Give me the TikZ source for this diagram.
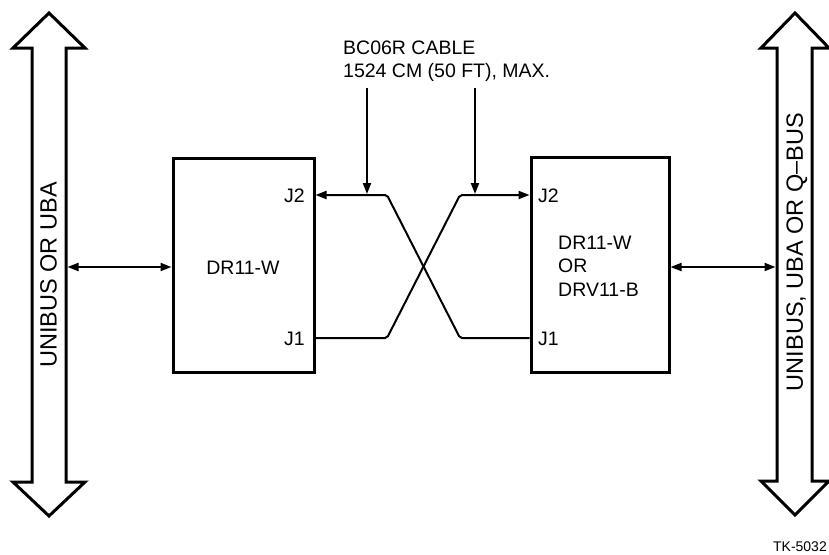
\documentclass[tikz,border=0pt]{standalone}
\usepackage{fontspec}
\setmainfont{Liberation Sans}
\usetikzlibrary{arrows.meta}

\begin{document}
\begin{tikzpicture}[x=1pt, y=-1pt, line join=miter, >={Triangle[length=11pt,width=8pt]}]
  \tikzset{
    unit/.style={draw, line width=3pt, minimum width=141pt, minimum height=214pt, inner sep=0pt},
    busarrow/.style={line width=3pt},
    cable/.style={line width=2pt, rounded corners=2pt},
    lbl/.style={font=\fontsize{19.5}{23.5}\selectfont, inner sep=0pt},
    buslbl/.style={font=\fontsize{23.5}{26}\selectfont, inner sep=0pt, rotate=90},
  }
  \useasboundingbox (0,0) rectangle (829,554);

  % the two buses
  \draw[busarrow] (49,13) -- (85,48) -- (66,48) -- (66,482) -- (85,482) -- (49,516)
    -- (13,482) -- (32,482) -- (32,48) -- (13,48) -- cycle;
  \draw[busarrow] (795,13) -- (829,48) -- (812,48) -- (812,481) -- (829,481) -- (795,515)
    -- (761,481) -- (777,481) -- (777,48) -- (761,48) -- cycle;
  \node[buslbl] (lbus) at (48.5,275) {UNIBUS OR UBA};
  \node[buslbl] (rbus) at (797,252) {UNIBUS, UBA OR Q--BUS};
  \coordinate (lport) at (67.5,267);
  \coordinate (rport) at (775.5,267);

  % the two interfaces
  \node[unit] (dra) at (243.5,265) {};
  \node[unit, minimum width=138pt, minimum height=215pt] (drb) at (600,264.5) {};
  \node[lbl, anchor=base] (naa) at (243,274) {DR11-W};
  \node[lbl, anchor=west, align=left] (nab) at (558,266) {DR11-W\\OR\\DRV11-B};
  \node[lbl, anchor=base east] (ja2) at (305,202) {J2};
  \node[lbl, anchor=base east] (ja1) at (305,345) {J1};
  \node[lbl, anchor=base west] (jb2) at (538,202) {J2};
  \node[lbl, anchor=base west] (jb1) at (538,345) {J1};

  \draw[cable, <->, rounded corners=0pt] (dra.west |- lport) -- (lport);
  \draw[cable, <->, rounded corners=0pt] (drb.east |- rport) -- (rport);

  % crossed cable
  \coordinate (pa2) at (315.5,195);
  \coordinate (pa1) at (315.5,338);
  \coordinate (pb2) at (529.5,195);
  \coordinate (pb1) at (529.5,338);
  \draw[cable, <-] (pa2) -- (387,195) -- (460,338) -- (pb1);
  \draw[cable, ->] (pa1) -- (387,338) -- (460,195) -- (pb2);

  \node[lbl, anchor=base west] (cbl) at (343,54) {BC06R CABLE};
  \node[lbl, anchor=base west] (len) at (343,77.5) {1524 CM (50 FT), MAX.};
  \coordinate (ca) at (367,88);
  \coordinate (cb) at (475,88);
  \draw[line width=2pt, ->] (ca) -- (367,194);
  \draw[line width=2pt, ->] (cb) -- (475,194);

  \node[font=\fontsize{14}{16}\selectfont, anchor=base east, inner sep=0pt] (tk) at (827,551) {TK-5032};
\end{tikzpicture}
\end{document}
